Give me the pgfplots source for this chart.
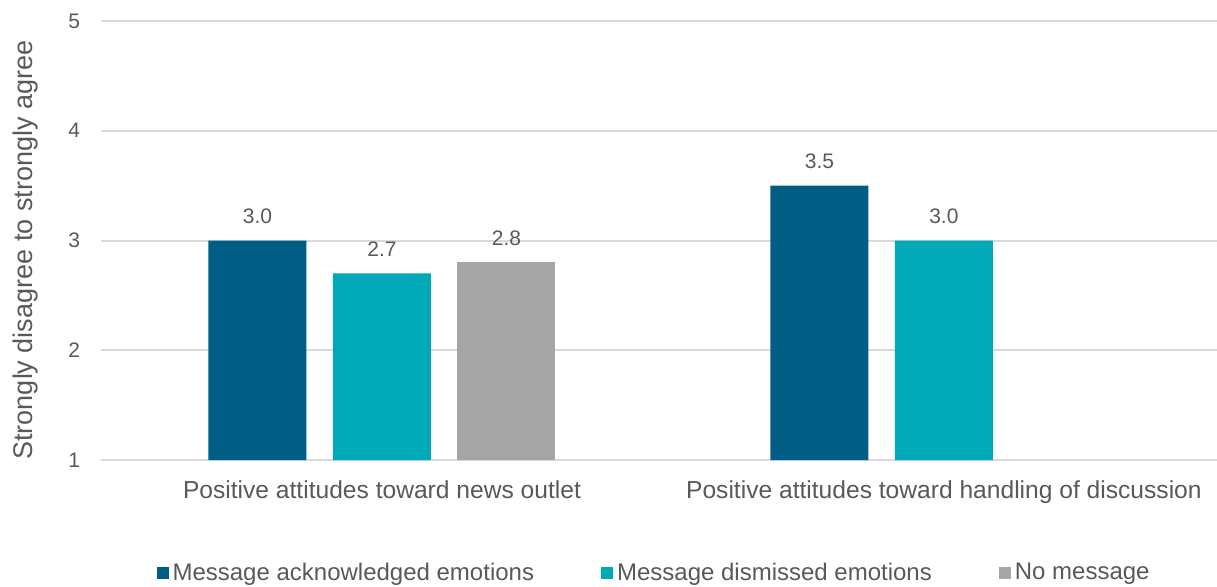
\documentclass[border=0pt]{standalone}
\usepackage{fontspec}
\setmainfont{Liberation Sans}
\usepackage{pgfplots}
\pgfplotsset{compat=1.18}

\definecolor{cblue}{HTML}{005E86}
\definecolor{cteal}{HTML}{00A9B8}
\definecolor{cgray}{HTML}{A5A5A5}
\definecolor{gridgray}{HTML}{D9D9D9}
\definecolor{txt}{HTML}{595959}

\begin{document}
\begin{tikzpicture}
  % fixed page size, axis box sits at (0,0)
  \useasboundingbox (-50.5pt,-63pt) rectangle (558pt,230pt);
  \begin{axis}[
      name=ax,
      at={(0,0)}, anchor=south west,
      scale only axis,
      width=558pt, height=219.5pt,
      ymin=1, ymax=5,
      xmin=-0.5, xmax=1.486,
      ytick={1,2,3,4,5},
      xtick={0,1},
      xticklabels={Positive attitudes toward news outlet, Positive attitudes toward handling of discussion},
      axis line style={draw=none},
      tick style={draw=none},
      ymajorgrids,
      grid style={color=gridgray, line width=1pt},
      ybar=0pt,
      bar width=0.1744,
      /pgf/number format/assume math mode=true,
      yticklabel style={font=\fontsize{10.5}{12}\selectfont, color=txt, xshift=-7pt},
      xticklabel style={font=\fontsize{12.3}{14}\selectfont, color=txt, yshift=-2.5pt},
      ylabel={Strongly disagree to strongly agree},
      ylabel style={font=\fontsize{13.5}{15}\selectfont, color=txt,
        at={(axis description cs:-0.068,0.478)}, anchor=center},
      nodes near coords={\pgfmathprintnumber[fixed,fixed zerofill,precision=1,assume math mode=true]{\pgfplotspointmeta}},
      every node near coord/.append style={font=\fontsize{10.5}{12}\selectfont, color=txt, yshift=5pt},
      legend columns=3,
      legend style={draw=none, at={(axis description cs:0.4965,-0.2574)}, anchor=center,
        font=\fontsize{12}{14}\selectfont, text=txt,
        /tikz/every even column/.append style={column sep=31.5pt}},
      legend image code/.code={\fill[#1] (0pt,-3pt) rectangle (6pt,3pt);},
    ]
    \addplot[fill=cblue, draw=none, bar shift=-0.2215] coordinates {(0,3.0) (1,3.5)};
    \addlegendentry{Message acknowledged emotions}
    \addplot[fill=cteal, draw=none, bar shift=0] coordinates {(0,2.7) (1,3.0)};
    \addlegendentry{Message dismissed emotions}
    \addplot[fill=cgray, draw=none, bar shift=0.2215] coordinates {(0,2.8)};
    \addlegendentry{No message}
  \end{axis}
\end{tikzpicture}
\end{document}
